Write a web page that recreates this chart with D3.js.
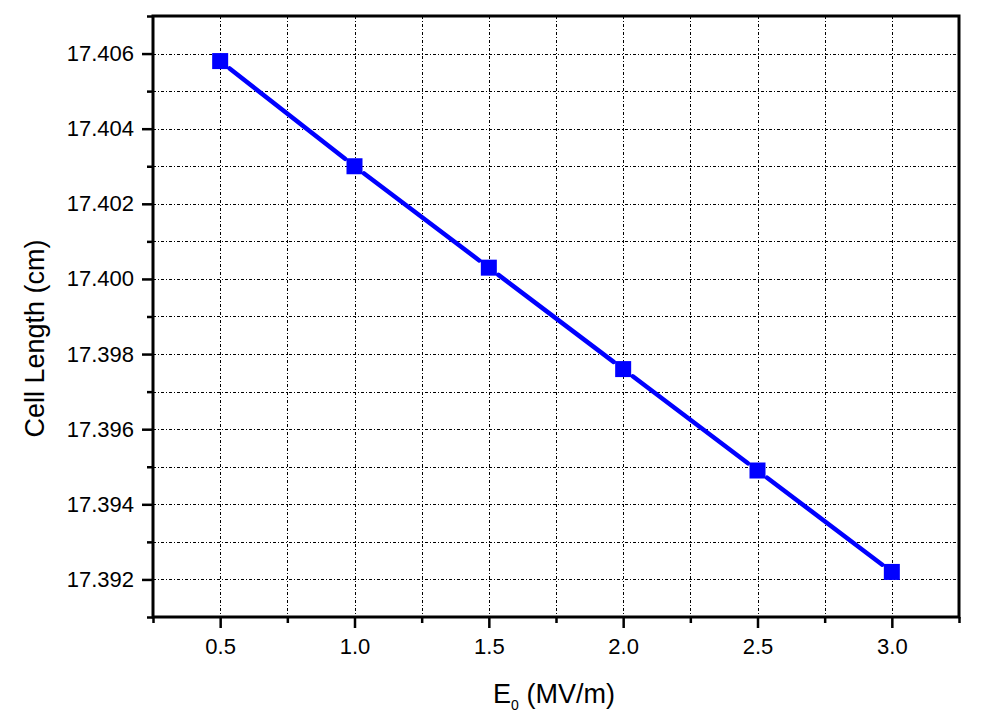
<!DOCTYPE html>
<html>
<head>
<meta charset="utf-8">
<script src="https://cdn.jsdelivr.net/npm/d3@7"></script>
<style>
  html, body { margin: 0; padding: 0; background: #fff; }
  svg { display: block; }
  text { font-family: "Liberation Sans", Arial, sans-serif; fill: #000; }
</style>
</head>
<body>
<svg id="chart" width="983" height="718"></svg>
<script>
// ---- data ----
const fieldE0 = [0.5, 1.0, 1.5, 2.0, 2.5, 3.0];
const cellLength = [17.4058, 17.4030, 17.4003, 17.3976, 17.3949, 17.3922];
const xTickValues = [0.5, 1.0, 1.5, 2.0, 2.5, 3.0];
const xMinorTicks = [0.25, 0.75, 1.25, 1.75, 2.25, 2.75, 3.25];
const yTickValues = [17.392, 17.394, 17.396, 17.398, 17.400, 17.402, 17.404, 17.406];
const yMinorTicks = [17.391, 17.393, 17.395, 17.397, 17.399, 17.401, 17.403, 17.405, 17.407];
const xDomain = [0.25, 3.25];
const yDomain = [17.391, 17.407];

// ---- layout ----
const svg = d3.select("#chart");
const L = 153, R = 959, T = 16, B = 617;
const x = d3.scaleLinear().domain(xDomain).range([L, R]);
const y = d3.scaleLinear().domain(yDomain).range([B, T]);

// grid
const grid = svg.append("g").attr("stroke", "#000").attr("stroke-width", 1)
  .attr("stroke-dasharray", "3,2,1,2").attr("fill", "none")
  .attr("shape-rendering", "crispEdges");
const allX = xTickValues.concat(xMinorTicks).filter(v => v > xDomain[0] && v < xDomain[1]);
const allY = yTickValues.concat(yMinorTicks).filter(v => v > yDomain[0] && v < yDomain[1]);
grid.selectAll("line.vx").data(allX).join("line")
  .attr("x1", d => Math.round(x(d)) + 0.5).attr("x2", d => Math.round(x(d)) + 0.5)
  .attr("y1", T).attr("y2", B);
grid.selectAll("line.hy").data(allY).join("line")
  .attr("y1", d => Math.round(y(d)) + 0.5).attr("y2", d => Math.round(y(d)) + 0.5)
  .attr("x1", L).attr("x2", R);

// axes
const xAxis = d3.axisBottom(x).tickValues(xTickValues).tickFormat(d3.format(".1f"))
  .tickSize(11).tickPadding(10);
const xAxisMinor = d3.axisBottom(x).tickValues(xMinorTicks).tickFormat("").tickSize(6);
const yAxis = d3.axisLeft(y).tickValues(yTickValues).tickFormat(d3.format(".3f"))
  .tickSize(11).tickPadding(8);
const yAxisMinor = d3.axisLeft(y).tickValues(yMinorTicks).tickFormat("").tickSize(6);

function styleAxis(g) {
  g.select(".domain").remove();
  g.selectAll(".tick line").attr("stroke", "#000").attr("stroke-width", 2.5);
  g.selectAll(".tick text").attr("font-size", 22)
    .attr("font-family", "'Liberation Sans', Arial, sans-serif").attr("fill", "#000");
}
svg.append("g").attr("transform", `translate(0,${B})`).call(xAxis).call(styleAxis);
svg.append("g").attr("transform", `translate(0,${B})`).call(xAxisMinor).call(styleAxis);
svg.append("g").attr("transform", `translate(${L},0)`).call(yAxis).call(styleAxis);
svg.append("g").attr("transform", `translate(${L},0)`).call(yAxisMinor).call(styleAxis);

// frame
svg.append("rect").attr("x", L).attr("y", T).attr("width", R - L).attr("height", B - T)
  .attr("fill", "none").attr("stroke", "#000").attr("stroke-width", 3);

// data line segments with gaps near markers
const pts = fieldE0.map((v, i) => [x(v), y(cellLength[i])]);
const gap = 12;
const segs = d3.pairs(pts).map(([a, b]) => {
  const dx = b[0] - a[0], dy = b[1] - a[1], len = Math.hypot(dx, dy);
  const ux = dx / len, uy = dy / len;
  return [[a[0] + ux * gap, a[1] + uy * gap], [b[0] - ux * gap, b[1] - uy * gap]];
});
svg.append("g").selectAll("line").data(segs).join("line")
  .attr("x1", d => d[0][0]).attr("y1", d => d[0][1])
  .attr("x2", d => d[1][0]).attr("y2", d => d[1][1])
  .attr("stroke", "#0000ff").attr("stroke-width", 4.5).attr("stroke-linecap", "round");

// markers
const ms = 16;
svg.append("g").selectAll("rect").data(pts).join("rect")
  .attr("x", d => d[0] - ms / 2).attr("y", d => d[1] - ms / 2)
  .attr("width", ms).attr("height", ms).attr("fill", "#0000ff");

// axis titles
svg.append("text").attr("transform", `translate(44,${(T + B) / 2 + 22}) rotate(-90)`)
  .attr("text-anchor", "middle").attr("font-size", 27).text("Cell Length (cm)");

const xt = svg.append("text").attr("x", (L + R) / 2 - 2).attr("y", 703)
  .attr("text-anchor", "middle").attr("font-size", 27);
xt.append("tspan").text("E");
xt.append("tspan").attr("font-size", 14).attr("dy", 7).text("0");
xt.append("tspan").attr("dy", -7).text(" (MV/m)");
</script>
</body>
</html>
